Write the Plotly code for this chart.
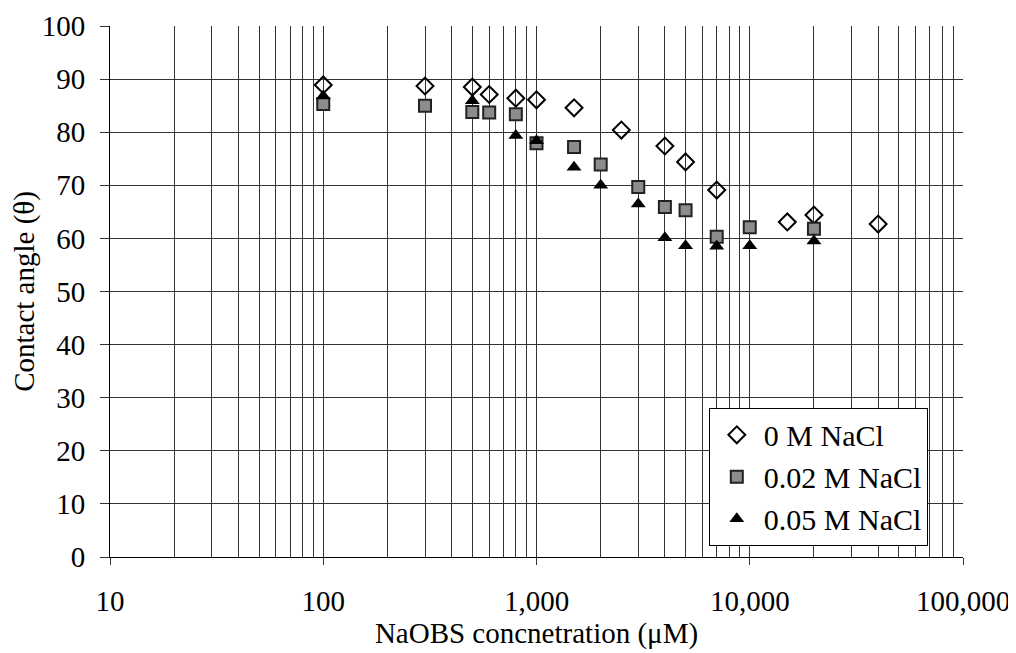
import plotly.graph_objects as go

# ---- data ----
x_0M = [100, 300, 500, 600, 800, 1000, 1500, 2500, 4000, 5000, 7000, 15000, 20000, 40000]
y_0M = [88.9, 88.7, 88.5, 87.1, 86.4, 86.1, 84.6, 80.4, 77.4, 74.4, 69.1, 63.1, 64.4, 62.7]

x_002M = [100, 300, 500, 600, 800, 1000, 1500, 2000, 3000, 4000, 5000, 7000, 10000, 20000]
y_002M = [85.3, 85.0, 83.8, 83.7, 83.4, 77.9, 77.2, 73.9, 69.7, 65.9, 65.3, 60.3, 62.1, 61.8]

x_005M = [100, 500, 800, 1000, 1500, 2000, 3000, 4000, 5000, 7000, 10000, 20000]
y_005M = [86.8, 85.9, 79.4, 78.4, 73.4, 70.0, 66.5, 60.1, 58.6, 58.5, 58.6, 59.5]

x_tickvals = [10, 100, 1000, 10000, 100000]
x_ticktext = ["10", "100", "1,000", "10,000", "100,000"]
y_tickvals = [0, 10, 20, 30, 40, 50, 60, 70, 80, 90, 100]

FONT = "Liberation Serif, Times New Roman, serif"
FS = 29

fig = go.Figure()
fig.add_trace(go.Scatter(
    x=x_0M, y=y_0M, mode="markers", name="0 M NaCl",
    marker=dict(symbol="diamond-open", size=13, color="black", line=dict(width=2, color="black")),
))
fig.add_trace(go.Scatter(
    x=x_002M, y=y_002M, mode="markers", name="0.02 M NaCl",
    marker=dict(symbol="square", size=12, color="#8c8c8c", line=dict(width=2, color="#222222")),
))
fig.add_trace(go.Scatter(
    x=x_005M, y=y_005M, mode="markers", name="0.05 M NaCl",
    marker=dict(symbol="triangle-up", size=13, color="black", line=dict(width=0)),
))

fig.update_layout(
    width=1008, height=645,
    margin=dict(l=102, r=53, t=18, b=96, autoexpand=False),
    paper_bgcolor="white", plot_bgcolor="white",
    font=dict(family=FONT, size=FS, color="black"),
    showlegend=True,
    legend=dict(
        x=0.702, y=0.281, xanchor="left", yanchor="top",
        bordercolor="black", borderwidth=1, bgcolor="white",
        font=dict(family=FONT, size=30, color="black"),
        tracegroupgap=0, itemwidth=44,
    ),
    xaxis=dict(
        type="log", range=[1, 5], automargin=False,
        tickvals=x_tickvals, ticktext=x_ticktext,
        showgrid=True, gridcolor="#333333", gridwidth=1,
        ticks="outside", ticklen=7, tickcolor="#333",
        ticklabelstandoff=11,
        showline=True, linecolor="black", linewidth=1, mirror=False,
        zeroline=False,
        minor=dict(dtick="D1", showgrid=True, gridcolor="#333333", gridwidth=1, ticks=""),
        title=dict(text="NaOBS concnetration (μM)", standoff=4, font=dict(size=FS)),
    ),
    yaxis=dict(
        range=[0, 100], tickvals=y_tickvals, automargin=False,
        showgrid=True, gridcolor="#333333", gridwidth=1,
        ticks="outside", ticklen=9, tickcolor="#333",
        ticklabelstandoff=9,
        showline=True, linecolor="black", linewidth=1,
        zeroline=False,
        title=dict(text="Contact angle (θ)", standoff=6, font=dict(size=FS)),
    ),
)

fig.write_html("out.html")
